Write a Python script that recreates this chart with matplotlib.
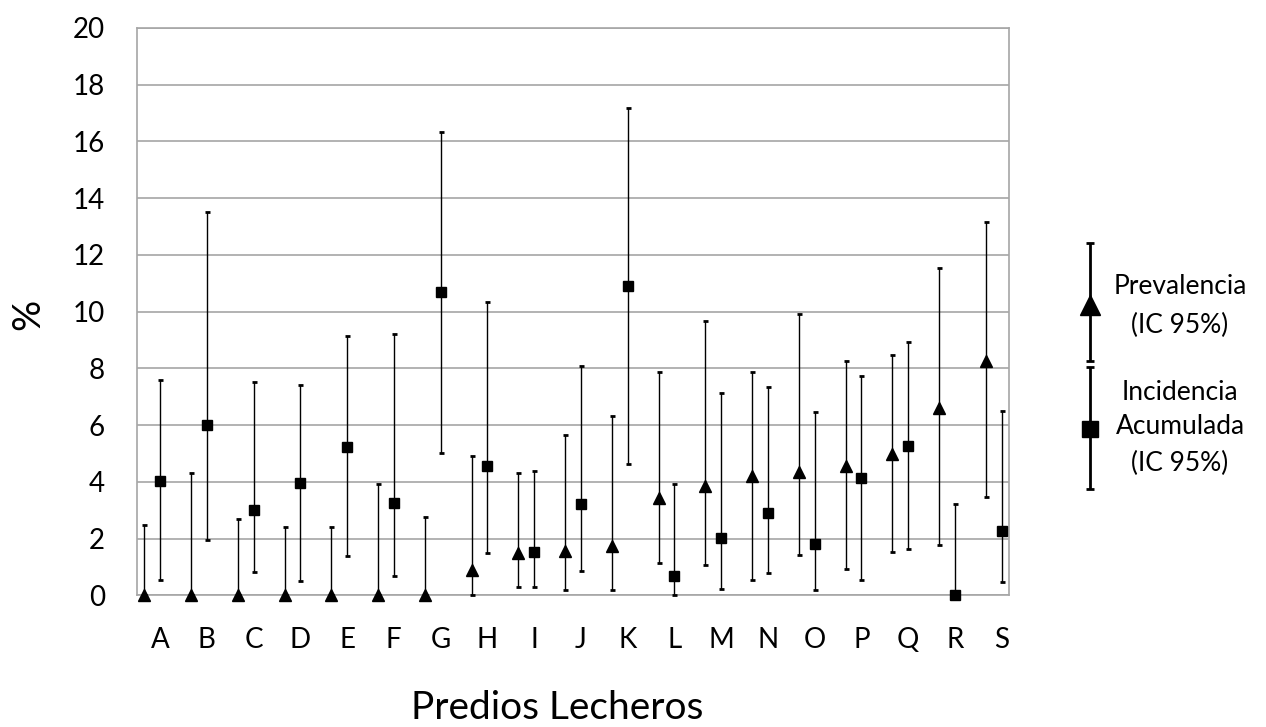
import matplotlib.pyplot as plt
import numpy as np

plt.rcParams['font.family'] = ['Lato', 'DejaVu Sans']

# Predios lecheros
predios = ['A', 'B', 'C', 'D', 'E', 'F', 'G', 'H', 'I', 'J',
           'K', 'L', 'M', 'N', 'O', 'P', 'Q', 'R', 'S']

# Prevalencia (%) con IC 95%
prev = [0, 0, 0, 0, 0, 0, 0, 0.9, 1.48, 1.57,
        1.75, 3.42, 3.85, 4.2, 4.35, 4.57, 4.97, 6.61, 8.28]
prev_low = [0, 0, 0, 0, 0, 0, 0, 0.02, 0.29, 0.18,
            0.2, 1.14, 1.08, 0.54, 1.44, 0.95, 1.54, 1.79, 3.46]
prev_high = [2.47, 4.32, 2.71, 2.40, 2.40, 3.92, 2.77, 4.93, 4.32, 5.65,
             6.31, 7.86, 9.66, 7.89, 9.93, 8.25, 8.49, 11.53, 13.18]

# Incidencia acumulada (%) con IC 95%
inc = [4.04, 6.0, 3.0, 3.97, 5.25, 3.25, 10.68, 4.57, 1.53, 3.24,
       10.91, 0.7, 2.01, 2.92, 1.83, 4.13, 5.28, 0, 2.26]
inc_low = [0.54, 1.97, 0.82, 0.51, 1.39, 0.67, 5.01, 1.5, 0.29, 0.88,
           4.63, 0.02, 0.23, 0.8, 0.21, 0.54, 1.63, 0, 0.46]
inc_high = [7.58, 13.5, 7.52, 7.42, 9.13, 9.22, 16.34, 10.36, 4.39, 8.09,
            17.19, 3.92, 7.12, 7.35, 6.46, 7.72, 8.93, 3.24, 6.49]

x = np.arange(1, len(predios) + 1)
prev = np.array(prev)
inc = np.array(inc)
prev_err = [prev - np.array(prev_low), np.array(prev_high) - prev]
inc_err = [inc - np.array(inc_low), np.array(inc_high) - inc]

fig = plt.figure(figsize=(12.66, 7.27), dpi=100)
ax = fig.add_axes([0.1082, 0.1809, 0.689, 0.7806])

ax.errorbar(x - 0.336, prev, yerr=prev_err, fmt='^', color='black', ms=8.5,
            ecolor='black', elinewidth=1, capsize=1.8, capthick=2, clip_on=False, zorder=3)
ax.errorbar(x, inc, yerr=inc_err, fmt='s', color='black', ms=7.5,
            ecolor='black', elinewidth=1, capsize=1.8, capthick=2, clip_on=False, zorder=3)

ax.set_xlim(0.508, 19.163)
ax.set_ylim(0, 20)
ax.set_yticks(np.arange(0, 21, 2))
ax.set_xticks(x)
ax.set_xticklabels(predios)
ax.yaxis.grid(True, color='#a6a6a6', lw=1.2)
ax.set_axisbelow(True)
for s in ax.spines.values():
    s.set_color('#a6a6a6')
    s.set_linewidth(1.2)
ax.tick_params(axis='both', length=0, labelsize=20)
ax.tick_params(axis='y', pad=23)
ax.tick_params(axis='x', pad=23)

fig.text(0.022, 0.567, '%', rotation=90, ha='center', va='center', fontsize=28)
fig.text(0.44, 0.011, 'Predios Lecheros', ha='center', va='baseline', fontsize=28)

# leyenda
lg = fig.add_axes([0, 0, 1, 1], facecolor='none')
lg.set_xlim(0, 1266)
lg.set_ylim(727, 0)
lg.axis('off')
lg.errorbar([1090], [305], yerr=[[62], [56]], fmt='^', color='black', ms=14,
            elinewidth=2, capsize=3, capthick=2)
lg.errorbar([1090], [429], yerr=[[62], [60]], fmt='s', color='black', ms=12,
            elinewidth=2, capsize=3, capthick=2)
leyenda = [('Prevalencia', 287), ('(IC 95%)', 325),
           ('Incidencia', 392), ('Acumulada', 427), ('(IC 95%)', 463)]
for txt, yy in leyenda:
    lg.text(1180, yy, txt, ha='center', va='center', fontsize=19)

fig.savefig('out.png', dpi=100)
